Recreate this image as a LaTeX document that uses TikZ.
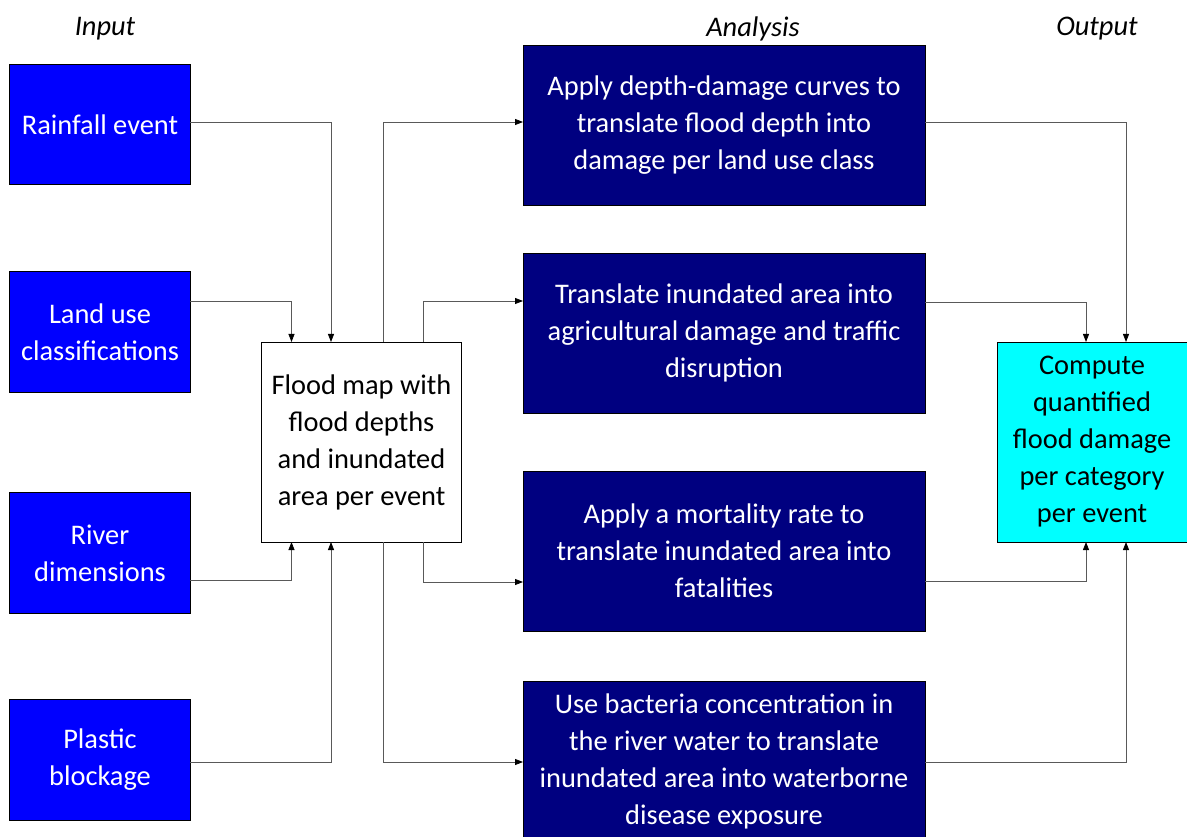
\documentclass[tikz,border=0pt]{standalone}
\usepackage{fontspec}
\setmainfont{Carlito}
\usepackage{xcolor}
\usepackage{tikz}
\usetikzlibrary{arrows.meta,calc,positioning}

\definecolor{inblue}{HTML}{0000FF}
\definecolor{anavy}{HTML}{000080}
\definecolor{outcyan}{HTML}{00FFFF}

\tikzset{
  box/.style={draw=black,line width=0.6pt,outer sep=0pt,inner sep=2pt,align=center,
    font=\fontsize{21.3}{27.75}\selectfont},
  inbox/.style={box,fill=inblue,text=white,minimum width=135.4pt,minimum height=90.4pt},
  anbox/.style={box,fill=anavy,text=white,minimum width=301.5pt,minimum height=120pt},
  flow/.style={draw=black!65,line width=0.6pt,-{Triangle[length=6pt,width=4.5pt,color=black]}},
  head/.style={font=\fontsize{21.3}{24}\selectfont\itshape}
}

\begin{document}
\begin{tikzpicture}[x=0.75pt,y=-0.75pt]
\useasboundingbox (0,0) rectangle (1187,837);
% column headings
\node[head] (hin) at (105,29) {Input};
\node[head] (han) at (753,29) {Analysis};
\node[head] (hout) at (1097,29) {Output};
% inputs
\node[inbox] (rain) at (100,124.5) {Rainfall event};
\node[inbox] (land) at (100,332) {Land use\\classifications};
\node[inbox] (river) at (100,553) {River\\dimensions};
\node[inbox] (plastic) at (100,760) {Plastic\\blockage};
% flood map
\node[box,fill=white,minimum width=150pt,minimum height=150pt] (flood) at (361.5,442)
  {Flood map with\\flood depths\\and inundated\\area per event};
% analysis
\node[anbox] (dmg) at (724,125) {Apply depth-damage curves to\\translate flood depth into\\damage per land use class};
\node[anbox] (agri) at (724,333) {Translate inundated area into\\agricultural damage and traffic\\disruption};
\node[anbox] (fatal) at (724,551) {Apply a mortality rate to\\translate inundated area into\\fatalities};
\node[anbox] (disease) at (724,761) {Use bacteria concentration in\\the river water to translate\\inundated area into waterborne\\disease exposure};
% output
\node[box,fill=outcyan,minimum width=142.5pt,minimum height=150pt] (out) at (1092,442)
  {Compute\\quantified\\flood damage\\per category\\per event};

% inputs -> flood map
\draw[flow] ($(rain.north east)+(0,58)$) -| ($(flood.north west)+(69.5,0)$);
\draw[flow] ($(land.north east)+(0,30)$) -| ($(flood.north west)+(30,0)$);
\draw[flow] ($(river.north east)+(0,88)$) -| ($(flood.south west)+(30,0)$);
\draw[flow] ($(plastic.north east)+(0,63)$) -| ($(flood.south west)+(69.5,0)$);
% flood map -> analysis
\draw[flow] ($(flood.north west)+(121.5,0)$) |- ($(dmg.north west)+(0,77)$);
\draw[flow] ($(flood.north west)+(161.5,0)$) |- ($(agri.north west)+(0,48)$);
\draw[flow] ($(flood.south west)+(161.5,0)$) |- ($(fatal.north west)+(0,111)$);
\draw[flow] ($(flood.south west)+(121.5,0)$) |- ($(disease.north west)+(0,81)$);
% analysis -> output
\draw[flow] ($(dmg.north east)+(0,77)$) -| ($(out.north west)+(129,0)$);
\draw[flow] ($(agri.north east)+(0,49)$) -| ($(out.north west)+(89,0)$);
\draw[flow] ($(fatal.north east)+(0,110)$) -| ($(out.south west)+(89,0)$);
\draw[flow] ($(disease.north east)+(0,81)$) -| ($(out.south west)+(129,0)$);
\end{tikzpicture}
\end{document}
